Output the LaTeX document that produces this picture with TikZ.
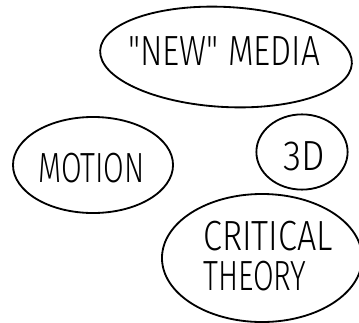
\documentclass[tikz,border=0pt]{standalone}
\usepackage{graphicx}
\usepackage{fontspec}
\setmainfont{Fira Sans}[UprightFont=* Light]
\usetikzlibrary{shapes.geometric}

% narrow hand-lettered caps
\newcommand{\hand}[2][0.8]{\scalebox{#1}[1]{#2}}

\begin{document}
\begin{tikzpicture}[
    x=0.025cm, y=-0.025cm,
    bubble/.style={draw, ellipse, line width=1.3pt, inner sep=0pt},
    word/.style={font=\fontsize{30}{36}\selectfont, inner sep=0pt}
]
\useasboundingbox (0,0) rectangle (359,322);

% Bubbles
\node[bubble, minimum width=6.3cm, minimum height=2.5cm, rotate=-3] (media) at (226,57) {};
\node[bubble, minimum width=4.0cm, minimum height=2.4cm] (motion) at (93,165) {};
\node[bubble, minimum width=2.28cm, minimum height=1.88cm] (threed) at (302,152) {};
\node[bubble, minimum width=5.0cm, minimum height=3.2cm] (critical) at (262,258) {};

% Lettering (baselines)
\node[word, anchor=base west] (mediatxt) at (128,65) {\hand[0.79]{\textquotedbl NEW\textquotedbl\ MEDIA}};
\node[word, anchor=base west] (motiontxt) at (38,182) {\hand[0.71]{MOTION}};
\node[word, anchor=base west] (threedtxt) at (283,170) {\hand[0.88]{3D}};
\node[word, anchor=base west] (crittxt) at (203,250) {\hand[0.81]{CRITICAL}};
\node[word, anchor=base west] (theorytxt) at (203,290) {\hand[0.71]{THEORY}};

\end{tikzpicture}
\end{document}
